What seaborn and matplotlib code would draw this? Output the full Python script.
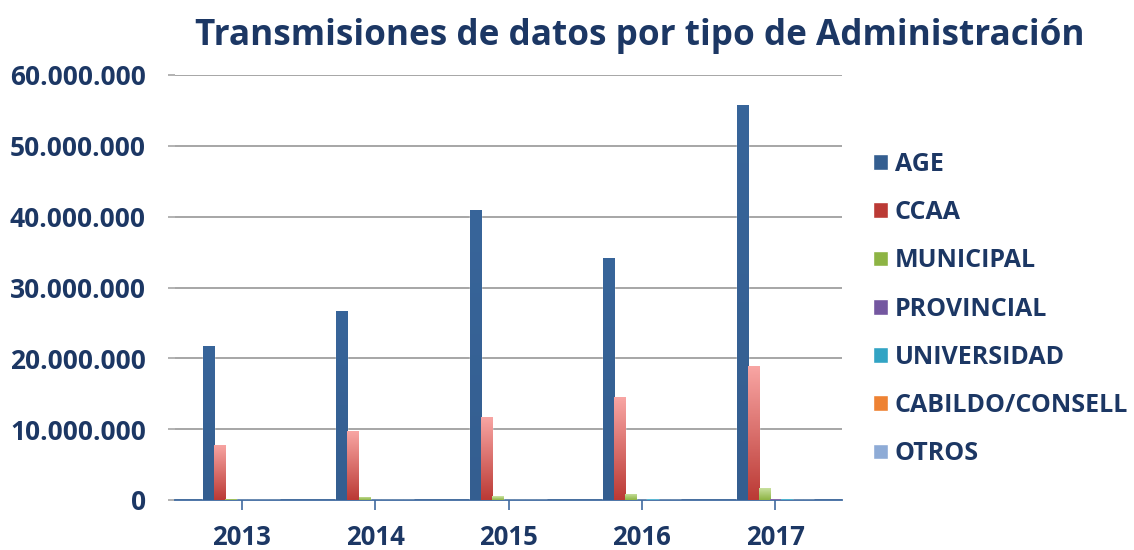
import numpy as np
import pandas as pd
import seaborn as sns
import matplotlib.pyplot as plt
from matplotlib.colors import LinearSegmentedColormap
from matplotlib.ticker import FuncFormatter

years = ["2013", "2014", "2015", "2016", "2017"]
tipos = ["AGE", "CCAA", "MUNICIPAL", "PROVINCIAL", "UNIVERSIDAD", "CABILDO/CONSELL", "OTROS"]
age = [21800000, 26700000, 41000000, 34200000, 55800000]
ccaa = [7800000, 9700000, 11700000, 14500000, 18900000]
municipal = [200000, 450000, 550000, 850000, 1750000]
provincial = [20000, 30000, 40000, 60000, 150000]
universidad = [30000, 40000, 50000, 120000, 200000]
cabildo = [10000, 15000, 20000, 30000, 50000]
otros = [10000, 15000, 20000, 30000, 60000]

series = [age, ccaa, municipal, provincial, universidad, cabildo, otros]
df = pd.DataFrame({
    "year": years * len(tipos),
    "tipo": np.repeat(tipos, len(years)),
    "valor": np.concatenate(series),
})

# (top, bottom) colours of each bar gradient
grad = {
    "AGE": ("#38659a", "#345e90"),
    "CCAA": ("#f8a5a3", "#bb3a35"),
    "MUNICIPAL": ("#cde4a6", "#8db444"),
    "PROVINCIAL": ("#b4a0cc", "#7457a0"),
    "UNIVERSIDAD": ("#9fdcee", "#32a4c4"),
    "CABILDO/CONSELL": ("#fbbf8d", "#ee8233"),
    "OTROS": ("#c1d3ec", "#8eabd6"),
}
palette = {k: v[1] for k, v in grad.items()}

navy = "#1c3764"
sns.set_theme(style="white")
plt.rcParams["font.family"] = ["Open Sans", "DejaVu Sans"]

fig = plt.figure(figsize=(11.34, 5.5), dpi=100)
ax = fig.add_axes([175 / 1134, 50 / 550, 667 / 1134, 425 / 550])

sns.barplot(data=df, x="year", y="valor", hue="tipo", hue_order=tipos, order=years,
            palette=palette, width=0.58, saturation=1, ax=ax, zorder=3)

ax.set_ylim(0, 60000000)
ax.set_xlim(-0.5, 4.5)
xl, yl = ax.get_xlim(), ax.get_ylim()

# gradient fill, light at the top, dark at the bottom
for tipo, cont in zip(tipos, ax.containers):
    top, bot = grad[tipo]
    cmap = LinearSegmentedColormap.from_list(tipo, [bot, top])
    for bar in cont:
        h = bar.get_height()
        if h <= 0:
            continue
        x0 = bar.get_x()
        im = ax.imshow(np.linspace(0, 1, 100).reshape(-1, 1), cmap=cmap, origin="lower",
                       extent=[x0, x0 + bar.get_width(), 0, h], aspect="auto", zorder=3.5)
        im.set_clip_path(bar)
ax.set_xlim(xl)
ax.set_ylim(yl)

ax.set_yticks(np.arange(0, 60000001, 10000000))
ax.yaxis.set_major_formatter(FuncFormatter(lambda v, p: f"{int(v):,}".replace(",", ".")))
ax.grid(axis="y", color="#a6a6a6", linewidth=1.4, zorder=0)
for s in ["left", "right", "top"]:
    ax.spines[s].set_visible(False)
ax.spines["bottom"].set_color("#3f6aa0")
ax.spines["bottom"].set_linewidth(1.3)
ax.tick_params(axis="y", length=5, color="#a6a6a6", width=1.2, pad=16, labelsize=19,
               labelcolor=navy, left=True)
ax.tick_params(axis="x", length=7, color="#3f6aa0", width=1.2, pad=10, labelsize=18.5,
               labelcolor=navy, bottom=True)
for lab in ax.get_xticklabels() + ax.get_yticklabels():
    lab.set_fontweight("bold")
ax.set_xlabel("")
ax.set_ylabel("")

fig.suptitle("Transmisiones de datos por tipo de Administración", x=640 / 1134, y=0.968,
             fontsize=25.3, fontweight="bold", color=navy)

sns.move_legend(ax, "center left", bbox_to_anchor=(860 / 1134, 241 / 550),
                bbox_transform=fig.transFigure, frameon=False, title=None,
                fontsize=18, labelspacing=0.93, handlelength=0.6, handleheight=0.6,
                handletextpad=0.3, borderpad=0)
for t in ax.get_legend().get_texts():
    t.set_color(navy)
    t.set_fontweight("bold")

fig.savefig("out.png", dpi=100)
